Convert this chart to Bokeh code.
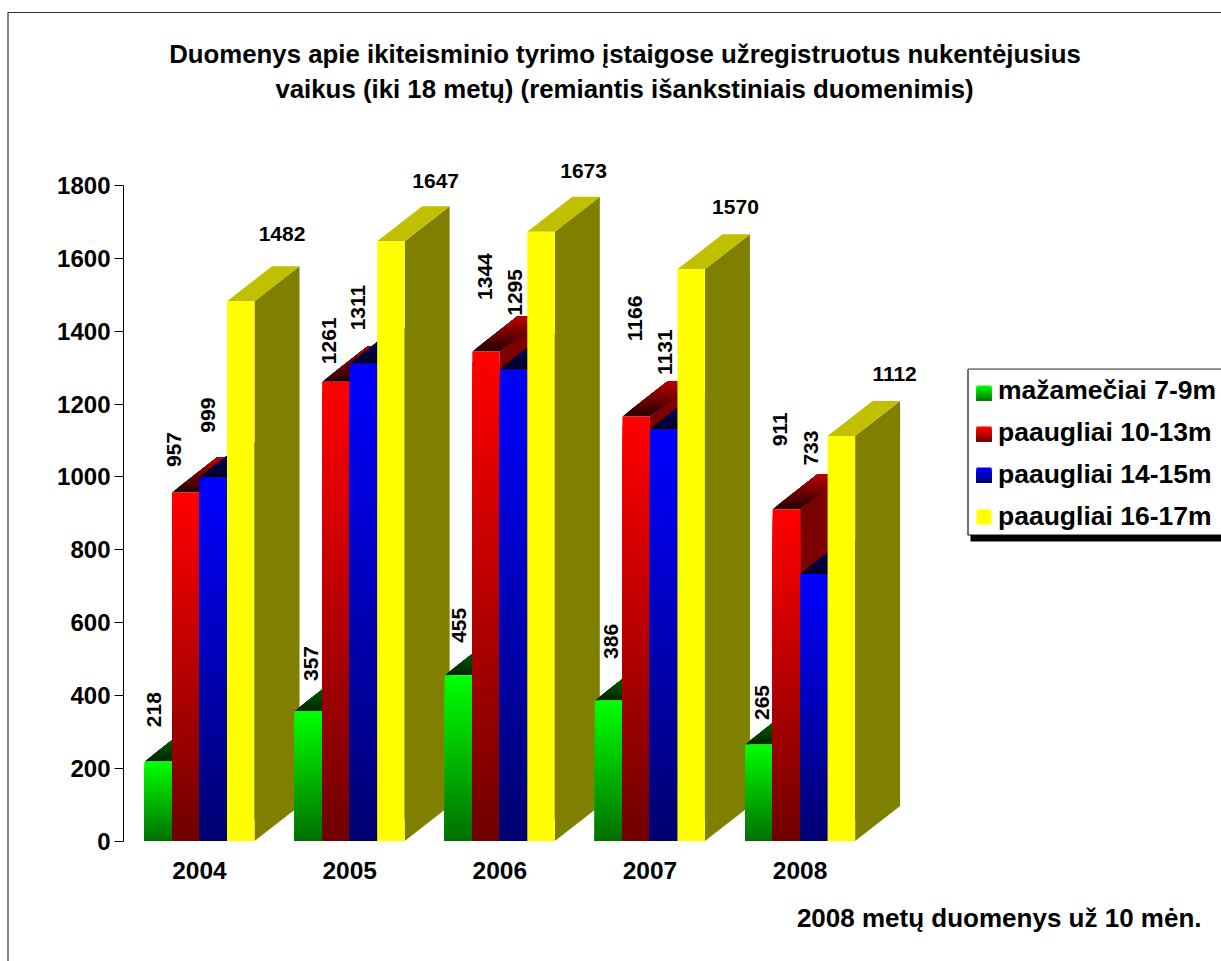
from bokeh.embed import file_html
from bokeh.resources import INLINE
from bokeh.plotting import figure
from bokeh.models import FixedTicker, Legend, LegendItem, Range1d
from bokeh.core.properties import value
import math

# ---------- data ----------
years = ["2004", "2005", "2006", "2007", "2008"]
series_names = ["mažamečiai 7-9m", "paaugliai 10-13m", "paaugliai 14-15m", "paaugliai 16-17m"]
small = [218, 357, 455, 386, 265]
teen_10_13 = [957, 1261, 1344, 1166, 911]
teen_14_15 = [999, 1311, 1295, 1131, 733]
teen_16_17 = [1482, 1647, 1673, 1570, 1112]
y_ticks = [0, 200, 400, 600, 800, 1000, 1200, 1400, 1600, 1800]
title_lines = ["Duomenys apie ikiteisminio tyrimo įstaigose užregistruotus nukentėjusius",
               "vaikus (iki 18 metų) (remiantis išankstiniais duomenimis)"]
note_text = "2008 metų duomenys už 10 mėn."

all_series = [small, teen_10_13, teen_14_15, teen_16_17]
FONT = "Liberation Sans"

# ---------- page geometry (pixels) ----------
W, H = 1221, 961
AXIS_X, BASE_Y = 123, 840.5
PX_PER_UNIT = 655.5 / 1800
PX_PER_CAT = 150.15
X0_PX = 199.0                 # centre of the first group


def dx_px(px):
    return (px - X0_PX) / PX_PER_CAT


def dy_px(py):
    return (BASE_Y - py) / PX_PER_UNIT


bar_w = 27.5 / PX_PER_CAT
depth_x = 45 / PX_PER_CAT
depth_y = 35 / PX_PER_UNIT

p = figure(width=W, height=H, min_border=0,
           x_range=Range1d(dx_px(0), dx_px(W)), y_range=Range1d(dy_px(H), dy_px(0)),
           output_backend="svg", toolbar_location=None)
p.outline_line_color = None
p.grid.visible = False
p.background_fill_color = "white"

ax = p.yaxis[0]
ax.fixed_location = dx_px(AXIS_X)
ax.ticker = FixedTicker(ticks=y_ticks)
ax.bounds = (0, 1800)
ax.major_tick_in = 0
ax.major_tick_out = 9
ax.minor_tick_line_color = None
ax.axis_line_color = "black"
ax.major_tick_line_color = "black"
ax.major_label_text_font = FONT
ax.major_label_text_font_size = "24px"
ax.major_label_text_font_style = "bold"
ax.major_label_text_color = "black"
ax.major_label_standoff = 4

bx = p.xaxis[0]
bx.fixed_location = 0
bx.ticker = FixedTicker(ticks=list(range(len(years))))
bx.major_label_overrides = {i: y for i, y in enumerate(years)}
bx.axis_line_color = None
bx.major_tick_line_color = None
bx.minor_tick_line_color = None
bx.major_label_text_font = FONT
bx.major_label_text_font_size = "24.5px"
bx.major_label_text_font_style = "bold"
bx.major_label_text_color = "black"
bx.major_label_standoff = 15

# outer border of the chart area
p.quad(left=[dx_px(7.5)], right=[dx_px(W + 40)], top=[dy_px(12)], bottom=[dy_px(H + 40)],
       fill_color=None, line_color="#333333", line_width=1.2)

# ---------- bars ----------
bright = [(0, 255, 0), (255, 0, 0), (0, 0, 255), (255, 255, 0)]
dark = [(0, 110, 0), (110, 0, 0), (0, 0, 110), (255, 255, 0)]
top_front = [(0, 40, 0), (40, 0, 0), (0, 0, 40), (192, 192, 0)]
top_back = [(0, 128, 0), (192, 0, 0), (0, 0, 128), (192, 192, 0)]
side_col = [(0, 110, 0), (125, 0, 0), (0, 0, 125), (128, 128, 0)]


def mix(a, b, t):
    return "#%02x%02x%02x" % tuple(round(a[i] + (b[i] - a[i]) * t) for i in range(3))


xs, ys, cols = [], [], []
N_FRONT, N_TOP = 48, 16
for g in range(len(years)):
    for s, vals in enumerate(all_series):
        v = vals[g]
        l = g + (s - 2) * bar_w
        r_ = l + bar_w
        # side face
        xs.append([r_, r_ + depth_x, r_ + depth_x, r_])
        ys.append([0, depth_y, v + depth_y, v])
        cols.append(mix(side_col[s], side_col[s], 0))
        # top face, painted front to back
        n_top = N_TOP if s < 3 else 1
        for i in range(n_top):
            t = i / n_top
            xs.append([l + depth_x * t, r_ + depth_x * t, r_ + depth_x, l + depth_x])
            ys.append([v + depth_y * t, v + depth_y * t, v + depth_y, v + depth_y])
            cols.append(mix(top_front[s], top_back[s], t))
        # front face, painted top to bottom
        n_front = N_FRONT if s < 3 else 1
        for i in range(n_front):
            t = i / n_front
            h = v * (1 - t)
            xs.append([l, r_, r_, l])
            ys.append([0, 0, h, h])
            cols.append(mix(bright[s], dark[s], t))
p.patches(xs, ys, fill_color=cols, line_color=None)

# ---------- data labels ----------
label_dx_px = [[9.4, 16.6, 14.4, 16.1, 16.9],
               [2, 6.5, 12.7, 12.5, 7],
               [8, 8, 15, 15, 11],
               [55, 58.5, 56.3, 58, 67]]
label_dy_px = [[52, 47.5, 50, 59, 42],
               [43, 41, 75, 98, 80],
               [62, 56, 77, 77, 126],
               [67, 60, 61, 62, 62]]
for s, vals in enumerate(all_series):
    lx = [g + (s - 2) * bar_w + label_dx_px[s][g] / PX_PER_CAT for g in range(len(years))]
    ly = [v + label_dy_px[s][g] / PX_PER_UNIT for g, v in enumerate(vals)]
    p.text(lx, ly, text=[str(v) for v in vals], angle=0 if s == 3 else math.pi / 2,
           text_font=value(FONT), text_font_size="21px", text_font_style="bold",
           text_color="black", text_align="center", text_baseline="middle")

# ---------- legend: box, shadow and gradient swatches under a real Legend ----------
p.quad(left=[dx_px(970)], right=[dx_px(W + 40)], bottom=[dy_px(541)], top=[dy_px(530)],
       fill_color="black", line_color=None)
p.quad(left=[dx_px(967.5)], right=[dx_px(W + 40)], bottom=[dy_px(534.5)], top=[dy_px(369)],
       fill_color="white", line_color="#111111", line_width=1.2)
p.quad(left=[dx_px(967.5)], right=[dx_px(W + 40)], bottom=[dy_px(369.5)], top=[dy_px(367.8)],
       fill_color="#808080", line_color=None)

sw_xs, sw_ys, sw_cols = [], [], []
swatch_tops = [385, 426, 467, 509]
for s, top in enumerate(swatch_tops):
    n = 15 if s < 3 else 1
    for i in range(n):
        sw_xs.append([dx_px(976), dx_px(991), dx_px(991), dx_px(976)])
        sw_ys.append([dy_px(top + 15), dy_px(top + 15), dy_px(top + i), dy_px(top + i)])
        sw_cols.append(mix(bright[s], dark[s], i / n))
p.patches(sw_xs, sw_ys, fill_color=sw_cols, line_color=None)

legend_items = []
for s, vals in enumerate(all_series):
    lefts = [g + (s - 2) * bar_w for g in range(len(years))]
    r = p.quad(left=lefts, right=[l + bar_w for l in lefts], bottom=0, top=vals,
               fill_alpha=0, line_alpha=0)
    legend_items.append(LegendItem(label=series_names[s], renderers=[r]))
legend = Legend(items=legend_items, location=(975, H - 531.5),
                orientation="vertical", padding=8, margin=0, spacing=11,
                label_height=27, glyph_height=15, glyph_width=15, label_standoff=8,
                label_text_font=FONT, label_text_font_size="26.5px", label_text_font_style="bold",
                label_text_color="black", border_line_color=None,
                background_fill_alpha=0)
p.add_layout(legend, "center")

# ---------- title and note ----------
p.text([dx_px(624.5), dx_px(624)], [dy_px(53.5), dy_px(88)], text=title_lines,
       text_font=value(FONT), text_font_size="25.8px", text_font_style="bold",
       text_color="black", text_align="center", text_baseline="middle")
p.text([dx_px(1201)], [dy_px(917)], text=[note_text],
       text_font=value(FONT), text_font_size="26px", text_font_style="bold",
       text_color="black", text_align="right", text_baseline="middle")

open("out.html", "w").write(file_html(p, INLINE))
